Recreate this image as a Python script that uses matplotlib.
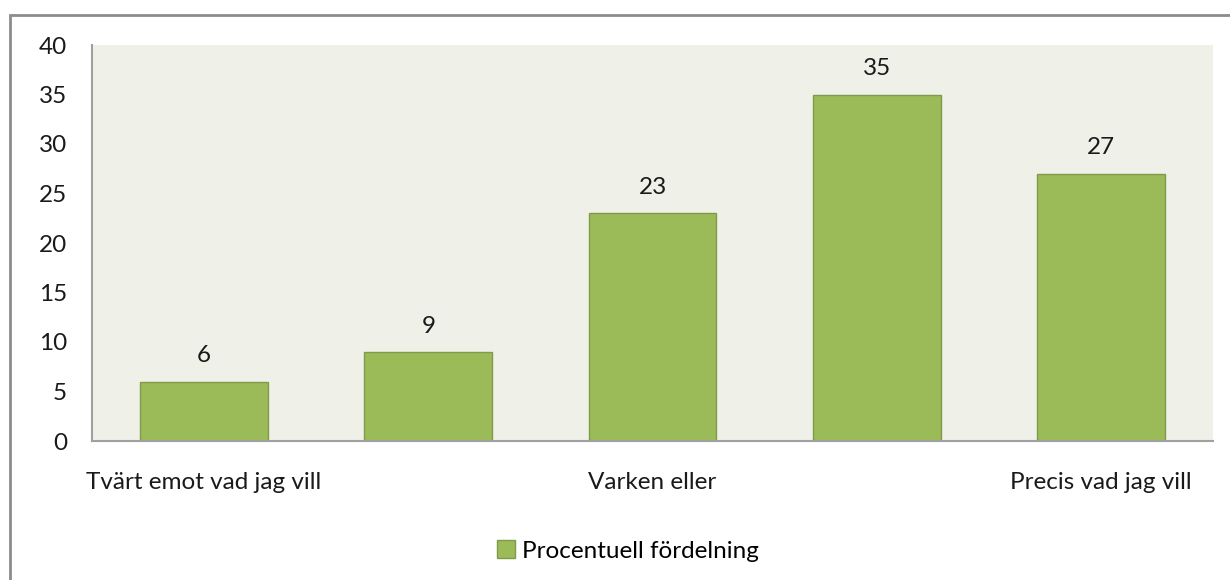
import matplotlib.pyplot as plt
from matplotlib.patches import Rectangle

plt.rcParams['font.family'] = ['Lato', 'DejaVu Sans']

categories = ['Tvärt emot vad jag vill', '', 'Varken eller', '', 'Precis vad jag vill']
values = [6, 9, 23, 35, 27]
series_name = 'Procentuell fördelning'

bar_color = '#9BBB59'
edge_color = '#7F9A48'
plot_bg = '#EFF1E9'
font_size = 17.5

fig = plt.figure(figsize=(12.3, 5.8), dpi=100)
fig.patch.set_facecolor('white')

# outer chart border (cut off at right/bottom like the original)
fig.patches.append(Rectangle((10 / 1230, -0.1), 1.1, 1 - 15 / 580 + 0.1,
                             transform=fig.transFigure, fill=False,
                             edgecolor='#8C8C8C', linewidth=2))

ax = fig.add_axes([92 / 1230, 1 - 441 / 580, (1213 - 92) / 1230, (441 - 45) / 580])
ax.set_facecolor(plot_bg)

x = range(len(values))
bars = ax.bar(x, values, width=0.57, color=bar_color, edgecolor=edge_color,
              linewidth=1, label=series_name, zorder=2)

for xi, v in zip(x, values):
    ax.annotate(str(v), (xi, v), xytext=(0, 11), textcoords='offset points',
                ha='center', va='bottom', fontsize=font_size, color='#1a1a1a')

ax.set_xlim(-0.5, 4.5)
ax.set_ylim(0, 40)
ax.set_yticks(range(0, 41, 5))
ax.set_xticks(list(x))
ax.set_xticklabels(categories)

for s in ['top', 'right']:
    ax.spines[s].set_visible(False)
ax.spines['left'].set_color('#A0A0A0')
ax.spines['bottom'].set_color('#A0A0A0')
ax.spines['left'].set_linewidth(1.5)
ax.spines['bottom'].set_linewidth(1.5)
ax.tick_params(axis='both', length=0, labelsize=font_size, colors='#1a1a1a')
ax.tick_params(axis='x', pad=22)
ax.tick_params(axis='y', pad=18)

fig.legend(handles=[bars], labels=[series_name], loc='center',
           bbox_to_anchor=(628 / 1230, 1 - 551 / 580), frameon=False,
           fontsize=font_size, handlelength=0.75, handleheight=0.75,
           handletextpad=0.3)

fig.savefig('out.png', dpi=100)
